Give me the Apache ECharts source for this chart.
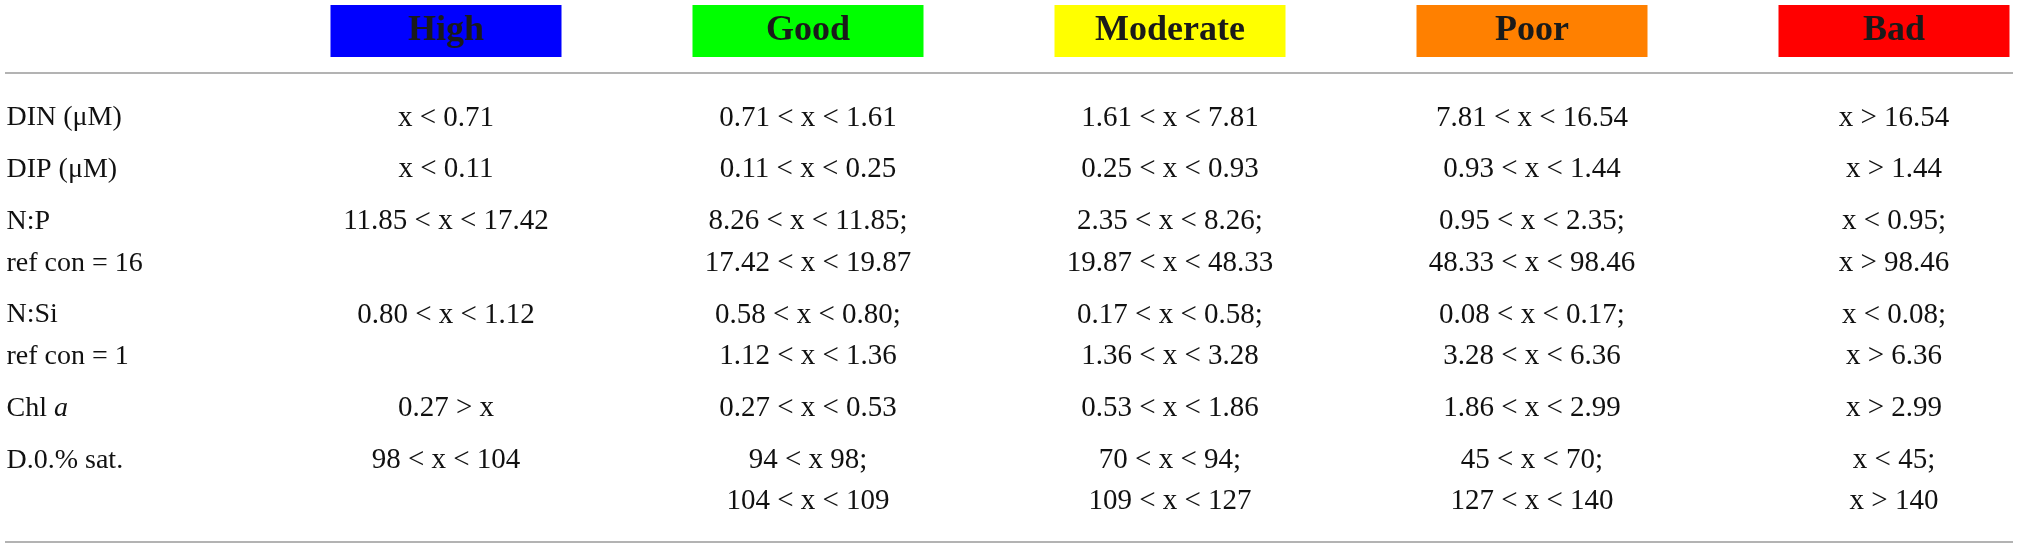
<!DOCTYPE html>
<html>
<head>
<meta charset="utf-8">
<script src="https://cdn.jsdelivr.net/npm/echarts@6/dist/echarts.min.js"></script>
<style>
  html, body { margin: 0; padding: 0; background: #fff; }
  #main { width: 2019px; height: 548px; }
</style>
</head>
<body>
<div id="main"></div>
<script>
    // table content
    var classes = ['High', 'Good', 'Moderate', 'Poor', 'Bad'];
    var classColors = ['#0000ff', '#00ff00', '#ffff00', '#ff8000', '#ff0000'];
    var params = [
        ['DIN (μM)'],
        ['DIP (μM)'],
        ['N:P', 'ref con = 16'],
        ['N:Si', 'ref con = 1'],
        ['Chl {i|a}'],
        ['D.0.% sat.']
    ];
    var high = [['x < 0.71'], ['x < 0.11'], ['11.85 < x < 17.42'], ['0.80 < x < 1.12'], ['0.27 > x'], ['98 < x < 104']];
    var good = [['0.71 < x < 1.61'], ['0.11 < x < 0.25'], ['8.26 < x < 11.85;', '17.42 < x < 19.87'],
        ['0.58 < x < 0.80;', '1.12 < x < 1.36'], ['0.27 < x < 0.53'], ['94 < x 98;', '104 < x < 109']];
    var moderate = [['1.61 < x < 7.81'], ['0.25 < x < 0.93'], ['2.35 < x < 8.26;', '19.87 < x < 48.33'],
        ['0.17 < x < 0.58;', '1.36 < x < 3.28'], ['0.53 < x < 1.86'], ['70 < x < 94;', '109 < x < 127']];
    var poor = [['7.81 < x < 16.54'], ['0.93 < x < 1.44'], ['0.95 < x < 2.35;', '48.33 < x < 98.46'],
        ['0.08 < x < 0.17;', '3.28 < x < 6.36'], ['1.86 < x < 2.99'], ['45 < x < 70;', '127 < x < 140']];
    var bad = [['x > 16.54'], ['x > 1.44'], ['x < 0.95;', 'x > 98.46'],
        ['x < 0.08;', 'x > 6.36'], ['x > 2.99'], ['x < 45;', 'x > 140']];
    var columns = [high, good, moderate, poor, bad];

    // layout (pixels)
    var W = 2019, H = 548;
    var gridLeft = 5, gridRight = 6;
    var firstCol = 446, colStep = 362;
    var firstLine = 118, linePx = 41.5, rowGap = 1.25;
    var headerPx = 31, topRulePx = 73, bottomRulePx = 542;

    var xMin = 1 - (firstCol - gridLeft) / colStep;
    var xMax = xMin + (W - gridLeft - gridRight) / colStep;
    var yMin = -firstLine / linePx;
    var yMax = yMin + H / linePx;
    function py(p) { return (p - firstLine) / linePx; }

    // y position (in line units) of each parameter row
    var rowY = [];
    var acc = 0;
    for (var r = 0; r < params.length; r++) {
        rowY.push(acc);
        acc += params[r].length - 1 + rowGap;
    }

    var labelData = [];
    for (var r = 0; r < params.length; r++) {
        for (var l = 0; l < params[r].length; l++) {
            labelData.push({ value: [xMin, rowY[r] + l], text: params[r][l] });
        }
    }
    var cellData = [];
    for (var c = 0; c < columns.length; c++) {
        for (var r = 0; r < columns[c].length; r++) {
            for (var l = 0; l < columns[c][r].length; l++) {
                cellData.push({ value: [c + 1, rowY[r] + l], text: columns[c][r][l] });
            }
        }
    }
    var headerData = classes.map(function(name, i) {
        return { value: [i + 1, py(headerPx)], text: name, itemStyle: { color: classColors[i], opacity: 1 } };
    });

    var font = '"Liberation Serif", "DejaVu Serif", serif';
    var textColor = '#111';

    var myChart = echarts.init(document.getElementById('main'), null, { renderer: 'canvas' });
    var option = {
        animation: false,
        backgroundColor: '#fff',
        grid: { left: gridLeft, right: gridRight, top: 0, bottom: 0 },
        xAxis: { type: 'value', min: xMin, max: xMax, show: false },
        yAxis: { type: 'value', min: yMin, max: yMax, inverse: true, show: false },
        series: [{
            type: 'scatter',
            silent: true,
            symbol: 'rect',
            symbolSize: [231, 52],
            itemStyle: { opacity: 1 },
            data: headerData,
            label: {
                show: true,
                position: 'inside',
                fontFamily: font,
                fontWeight: 'bold',
                fontSize: 36,
                color: '#1a1a1a',
                formatter: function(p) { return p.data.text; }
            },
            markLine: {
                silent: true,
                symbol: 'none',
                label: { show: false },
                lineStyle: { color: '#9a9a9a', width: 1.6, type: 'solid', opacity: 1 },
                data: [{ yAxis: py(topRulePx) }, { yAxis: py(bottomRulePx) }]
            }
        }, {
            type: 'scatter',
            silent: true,
            symbolSize: 1,
            itemStyle: { color: '#fff', opacity: 1 },
            data: labelData,
            label: {
                show: true,
                position: 'right',
                distance: 1,
                fontFamily: font,
                fontSize: 28,
                color: textColor,
                formatter: function(p) { return p.data.text; },
                rich: {
                    i: { fontFamily: font, fontSize: 28, fontStyle: 'italic', color: textColor }
                }
            }
        }, {
            type: 'scatter',
            silent: true,
            symbolSize: 1,
            itemStyle: { color: '#fff', opacity: 1 },
            data: cellData,
            label: {
                show: true,
                position: 'inside',
                fontFamily: font,
                fontSize: 29,
                color: textColor,
                formatter: function(p) { return p.data.text; }
            }
        }]
    };
    myChart.setOption(option);
</script>
</body>
</html>
